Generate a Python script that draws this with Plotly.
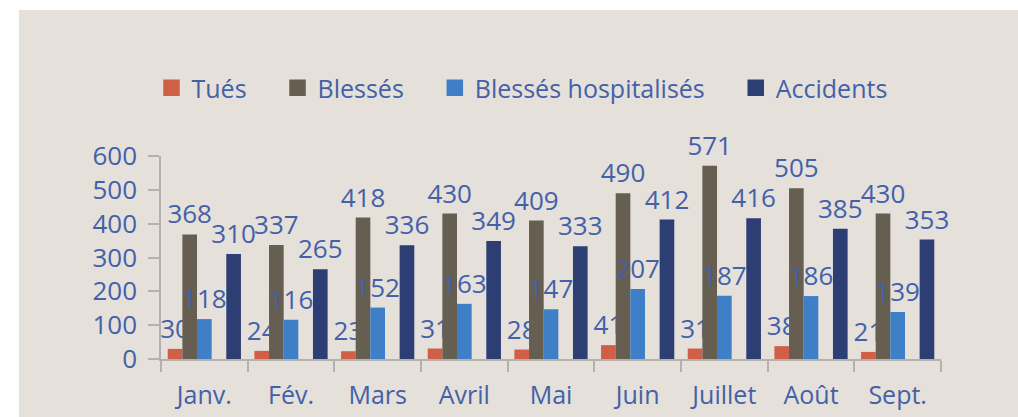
import plotly.graph_objects as go

months = ["Janv.", "Fév.", "Mars", "Avril", "Mai", "Juin", "Juillet", "Août", "Sept."]
tues = [30, 24, 23, 31, 28, 41, 31, 38, 21]
blesses = [368, 337, 418, 430, 409, 490, 571, 505, 430]
hospitalises = [118, 116, 152, 163, 147, 207, 187, 186, 139]
accidents = [310, 265, 336, 349, 333, 412, 416, 385, 353]
y_ticks = [0, 100, 200, 300, 400, 500, 600]

series = [
    ("Tués", tues, "#cf5f46"),
    ("Blessés", blesses, "#675e52"),
    ("Blessés hospitalisés", hospitalises, "#3f7fc7"),
    (None, None, None),
    ("Accidents", accidents, "#2d3e74"),
]

TXT = "#4361a8"
FONT = "Open Sans"
FS_NUM = 26
FS_TXT = 25
W, H = 1018, 417
L, R, T, B = 161, 77, 156, 58
pw, ph = W - L - R, H - T - B
PAD = "\u00a0" * 4

fig = go.Figure()
for name, vals, color in series:
    if name is None:
        fig.add_trace(go.Bar(x=months, y=[None] * len(months), showlegend=False, hoverinfo="skip"))
        continue
    fig.add_trace(go.Bar(
        x=months, y=vals, name=name, legendgroup=name, showlegend=False,
        marker=dict(color=color, line=dict(width=0)),
        text=[str(v) for v in vals], textposition="outside", constraintext="none",
        cliponaxis=False, textfont=dict(color=TXT, size=FS_NUM, family=FONT),
    ))
# legend-only entries (point kept outside the fixed y range) with larger square swatches
for name, vals, color in series:
    if name is None:
        continue
    fig.add_trace(go.Scatter(
        x=[months[0]], y=[-1000], mode="markers", name=name + PAD, legendgroup=name,
        marker=dict(symbol="square", size=15, color=color, line=dict(width=1.5, color=color)),
        hoverinfo="skip", cliponaxis=True,
    ))

fig.update_layout(
    width=W, height=H,
    margin=dict(l=L, r=R, t=T, b=B, pad=0, autoexpand=False),
    paper_bgcolor="white", plot_bgcolor="rgba(0,0,0,0)",
    barmode="group", bargap=0.155, bargroupgap=0,
    font=dict(family=FONT, color=TXT, size=FS_TXT),
    legend=dict(orientation="h", x=(535 - L) / pw, xanchor="center",
                y=(H - B - 88) / ph, yanchor="middle", itemsizing="trace",
                font=dict(size=FS_TXT, color=TXT, family=FONT),
                bgcolor="rgba(0,0,0,0)", itemwidth=30, traceorder="normal"),
    shapes=[dict(type="rect", xref="paper", yref="paper", layer="below",
                 x0=(19 - L) / pw, x1=(W - L) / pw + 0.01,
                 y0=-(B + 5) / ph, y1=(H - B - 10) / ph,
                 fillcolor="#e5e0da", line=dict(width=0))],
    showlegend=True,
)
fig.update_xaxes(showline=True, linecolor="#b4b0ab", linewidth=1.5, automargin=False,
                 range=[-0.5, len(months) - 0.5],
                 ticks="outside", ticklen=11, tickcolor="#b4b0ab", tickwidth=1.5,
                 tickson="boundaries", showgrid=False, ticklabelstandoff=13,
                 tickfont=dict(size=FS_TXT, color=TXT, family=FONT))
fig.update_yaxes(range=[0, 600], tickvals=y_ticks, showline=True, linecolor="#b4b0ab",
                 linewidth=1.5, ticks="outside", ticklen=11, tickcolor="#b4b0ab",
                 tickwidth=1.5, showgrid=False, zeroline=False, ticklabelstandoff=6,
                 automargin=False, tickfont=dict(size=FS_NUM, color=TXT, family=FONT))

fig.write_html("out.html")
